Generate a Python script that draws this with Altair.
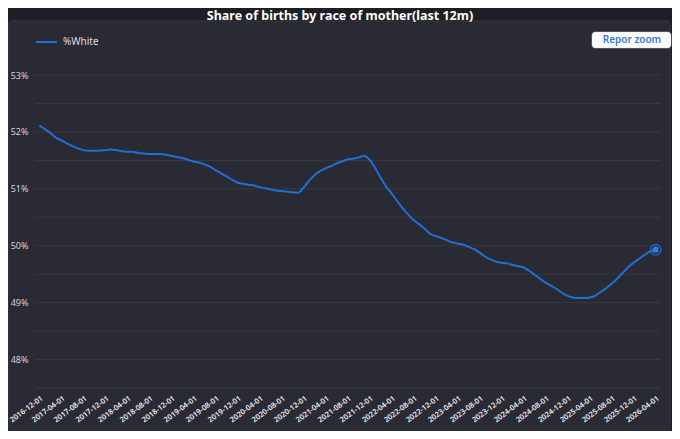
import altair as alt
import pandas as pd

# Monthly categories (first of month) 2016-12 .. 2026-04
dates = pd.date_range("2016-12-01", periods=113, freq="MS").strftime("%Y-%m-%d").tolist()

# %White share of births (last 12m)
pct_white = [
    52.11, 52.05, 51.98, 51.90, 51.85, 51.80, 51.75, 51.71, 51.68, 51.67,
    51.67, 51.67, 51.68, 51.69, 51.68, 51.66, 51.65, 51.65, 51.63, 51.62,
    51.61, 51.61, 51.61, 51.60, 51.58, 51.56, 51.54, 51.51, 51.48, 51.46,
    51.43, 51.39, 51.33, 51.27, 51.22, 51.16, 51.11, 51.09, 51.07, 51.06,
    51.03, 51.01, 50.99, 50.97, 50.96, 50.95, 50.94, 50.93, 51.02, 51.14,
    51.24, 51.31, 51.36, 51.40, 51.45, 51.48, 51.52, 51.53, 51.55, 51.58,
    51.51, 51.37, 51.20, 51.04, 50.92, 50.79, 50.66, 50.55, 50.45, 50.38,
    50.30, 50.21, 50.17, 50.14, 50.10, 50.06, 50.04, 50.02, 49.98, 49.94,
    49.88, 49.81, 49.76, 49.72, 49.70, 49.69, 49.66, 49.64, 49.62, 49.56,
    49.49, 49.42, 49.35, 49.30, 49.24, 49.17, 49.12, 49.09, 49.08, 49.08,
    49.09, 49.12, 49.19, 49.25, 49.33, 49.42, 49.52, 49.62, 49.70, 49.77,
    49.84, 49.90, 49.93,
]

x_tick_labels = dates[::4]
y_label_values = [48, 49, 50, 51, 52, 53]
y_grid_values = [47.5, 48, 48.5, 49, 49.5, 50, 50.5, 51, 51.5, 52, 52.5, 53]

title_text = "Share of births by race of mother(last 12m)"
series_name = "%White"
button_text = "Repor zoom"

FONT = "Noto Sans"
BLUE = "#1f6fd6"

df = pd.DataFrame({"date": dates, "pct": pct_white})
last_df = df.tail(1)
grid_df = pd.DataFrame({"pct": y_grid_values})

x_scale = alt.Scale(type="point", domain=dates, padding=0.8)
y_scale = alt.Scale(domain=[47.5, 53], nice=False, zero=False)

x_axis = alt.Axis(
    values=x_tick_labels,
    labelAngle=-37,
    labelAlign="right",
    labelBaseline="top",
    labelPadding=6,
    labelOverlap=False,
    labelBound=False,
    labelColor="#ececf2",
    labelFontSize=7.5,
    labelFontWeight=600,
    labelFont=FONT,
    domain=False,
    ticks=False,
    grid=False,
    zindex=1,
)
y_axis = alt.Axis(
    values=y_label_values,
    labelExpr="datum.value + '%'",
    labelColor="#d2d2da",
    labelFontSize=9,
    labelFont=FONT,
    labelPadding=7,
    domain=False,
    ticks=False,
    grid=False,
    zindex=1,
)

x_enc = alt.X("date:O", scale=x_scale, sort=None, title=None, axis=x_axis)
y_enc = alt.Y("pct:Q", scale=y_scale, title=None, axis=y_axis)

one = alt.Data(values=[{}])

panel = alt.Chart(one).mark_rect(
    fill="#2a2a35", stroke="#363642", strokeWidth=1, cornerRadius=4
).encode(
    x=alt.value(-27), x2=alt.value(635), y=alt.value(-54), y2=alt.value(356)
)

grid = alt.Chart(grid_df).mark_rule(color="#393947", strokeWidth=1).encode(
    y=y_enc,
    x=alt.value(0),
    x2=alt.value(625),
)

line = alt.Chart(df).mark_line(color=BLUE, strokeWidth=2, interpolate="monotone").encode(
    x=x_enc, y=y_enc
)

ring = alt.Chart(last_df).mark_point(
    filled=False, color=BLUE, strokeWidth=1.5, size=110, opacity=0.8
).encode(x=x_enc, y=y_enc)

dot = alt.Chart(last_df).mark_circle(color="#2a7de8", size=40, opacity=1).encode(
    x=x_enc, y=y_enc
)

title = alt.Chart(one).mark_text(
    text=title_text, font=FONT, fontSize=12.5, fontWeight="bold", color="#ffffff",
    align="center", baseline="middle",
).encode(x=alt.value(305), y=alt.value(-59))

legend_line = alt.Chart(one).mark_rule(color=BLUE, strokeWidth=2).encode(
    x=alt.value(1), x2=alt.value(22), y=alt.value(-33)
)
legend_text = alt.Chart(one).mark_text(
    text=series_name, font=FONT, fontSize=10, color="#dcdce4",
    align="left", baseline="middle",
).encode(x=alt.value(28), y=alt.value(-33))

button = alt.Chart(one).mark_rect(
    fill="#ffffff", stroke="#d0d0d8", strokeWidth=0.5, cornerRadius=3
).encode(x=alt.value(557), x2=alt.value(636), y=alt.value(-43), y2=alt.value(-27))
button_label = alt.Chart(one).mark_text(
    text=button_text, font=FONT, fontSize=10, fontWeight=600, color="#3a78d6",
    align="center", baseline="middle",
).encode(x=alt.value(597), y=alt.value(-35))

chart = alt.layer(
    panel, grid, line, ring, dot, title, legend_line, legend_text, button, button_label
).properties(
    width=625,
    height=313,
    padding={"left": 27, "top": 67, "right": 12, "bottom": 43},
    autosize=alt.AutoSizeParams(type="none"),
    background="#1e1e24",
).configure_view(stroke=None)

chart.save("out.html", embed_options={"renderer": "svg", "actions": False})
